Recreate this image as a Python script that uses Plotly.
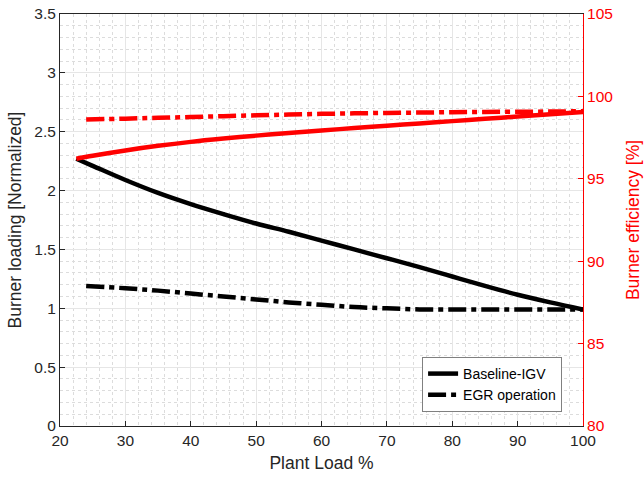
import plotly.graph_objects as go

# Data
load_base = [22.5, 25, 30, 35, 40, 45, 50, 55, 60, 65, 70, 75, 80, 85, 90, 95, 100]
loading_base = [2.27, 2.21, 2.09, 1.98, 1.885, 1.80, 1.72, 1.65, 1.575, 1.50, 1.425, 1.35, 1.27, 1.19, 1.115, 1.05, 0.99]
eff_base = [96.22, 96.4, 96.72, 97.0, 97.24, 97.44, 97.62, 97.78, 97.93, 98.08, 98.22, 98.36, 98.5, 98.64, 98.78, 98.92, 99.05]

load_egr = [24, 30, 35, 40, 45, 50, 55, 60, 65, 70, 75, 80, 85, 90, 95, 100]
loading_egr = [1.19, 1.17, 1.15, 1.125, 1.10, 1.075, 1.05, 1.03, 1.01, 1.00, 0.99, 0.99, 0.99, 0.99, 0.99, 0.99]
eff_egr = [98.6, 98.65, 98.7, 98.75, 98.8, 98.85, 98.9, 98.94, 98.97, 99.0, 99.02, 99.04, 99.06, 99.07, 99.08, 99.1]

DASHDOT = "18px,5px,5px,5px"

fig = go.Figure()
fig.add_trace(go.Scatter(x=load_base, y=loading_base, mode="lines", name="Baseline-IGV",
                         line=dict(color="black", width=4.5, shape="spline")))
fig.add_trace(go.Scatter(x=load_egr, y=loading_egr, mode="lines", name="EGR operation",
                         line=dict(color="black", width=4.5, dash=DASHDOT, shape="spline")))
fig.add_trace(go.Scatter(x=load_base, y=eff_base, mode="lines", showlegend=False, yaxis="y2",
                         line=dict(color="red", width=4.5, shape="spline")))
fig.add_trace(go.Scatter(x=load_egr, y=eff_egr, mode="lines", showlegend=False, yaxis="y2",
                         line=dict(color="red", width=4.5, dash=DASHDOT, shape="spline")))

font = "Liberation Sans, Arial, sans-serif"
fig.update_layout(
    width=644, height=479,
    margin=dict(l=60, r=61, t=14, b=53),
    paper_bgcolor="white", plot_bgcolor="white",
    font=dict(family=font, size=15.5, color="#262626"),
    xaxis=dict(range=[20, 100], dtick=10, showline=True, linecolor="#262626", linewidth=1,
               mirror=True, ticks="inside", ticklen=5, tickcolor="#262626", automargin=False,
               showgrid=True, gridcolor="#e6e6e6", zeroline=False,
               minor=dict(dtick=2, showgrid=True, gridcolor="#dcdcdc", griddash="dot", ticks=""),
               title=dict(text="Plant Load %", font=dict(size=17.5), standoff=9)),
    yaxis=dict(range=[0, 3.5], dtick=0.5, showline=True, linecolor="#262626", linewidth=1,
               ticks="inside", ticklen=5, tickcolor="#262626", automargin=False,
               showgrid=True, gridcolor="#e6e6e6", zeroline=False,
               minor=dict(dtick=0.1, showgrid=True, gridcolor="#dcdcdc", griddash="dot", ticks=""),
               title=dict(text="Burner loading [Normalized]", font=dict(size=17.5), standoff=8)),
    yaxis2=dict(range=[80, 105], dtick=5, overlaying="y", side="right", showline=True,
                linecolor="red", linewidth=1, ticks="inside", ticklen=5, tickcolor="red",
                automargin=False,
                tickfont=dict(color="red"), showgrid=False, zeroline=False,
                title=dict(text="Burner efficiency [%]", font=dict(color="red", size=17.5), standoff=14)),
    legend=dict(x=0.96, y=0.034, xanchor="right", yanchor="bottom",
                bgcolor="white", bordercolor="#808080", borderwidth=1,
                font=dict(size=14, color="black"), tracegroupgap=0),
)

fig.write_html("out.html", config={"displayModeBar": False},
               post_script="document.body.style.margin='0px';")
